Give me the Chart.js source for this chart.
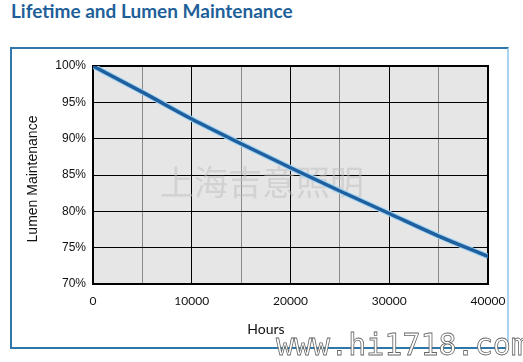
<!DOCTYPE html>
<html lang="en">
<head>
    <meta charset="UTF-8">
    <title>Lifetime and Lumen Maintenance</title>
    <style>
        body {
            margin: 0;
            background: #ffffff;
            width: 523px;
            height: 362px;
            overflow: hidden;
            position: relative;
            font-family: Lato, "Open Sans", sans-serif;
        }

        .title {
            position: absolute;
            left: 11px;
            top: -1px;
            font-size: 19px;
            font-weight: bold;
            color: #1f5f99;
        }

        .frame {
            position: absolute;
            left: 10px;
            top: 47px;
            width: 495px;
            height: 298px;
            border: 2px solid #2f76aa;
            border-right-color: #a9d3ee;
        }

        #chart {
            position: absolute;
            left: 0;
            top: 0;
        }
    </style>
    <script src="https://cdn.jsdelivr.net/npm/chart.js@4.4.1/dist/chart.umd.min.js"></script>
</head>
<body>
    <div class="title">Lifetime and Lumen Maintenance</div>
    <div class="frame"></div>
    <canvas id="chart" width="523" height="362"></canvas>
    <script>
        // chart data
        const hours = [0, 5000, 10000, 15000, 20000, 25000, 30000, 35000, 40000];
        const lumenMaintenance = [100, 96.4, 92.7, 89.3, 86.0, 82.8, 79.7, 76.6, 73.8];
        const xGridTicks = [0, 5000, 10000, 15000, 20000, 25000, 30000, 35000, 40000];
        const xLabelTicks = [0, 10000, 20000, 30000, 40000];
        const yTicks = [70, 75, 80, 85, 90, 95, 100];

        const xTitle = 'Hours';
        const yTitle = 'Lumen Maintenance';

        const points = hours.map((h, i) => ({ x: h, y: lumenMaintenance[i] }));

        // plot background, frame, axis titles and watermarks
        const decorations = {
            id: 'decorations',
            beforeDraw(chart) {
                const { ctx, chartArea: a } = chart;
                ctx.save();
                ctx.fillStyle = '#e6e6e6';
                ctx.fillRect(a.left, a.top, a.right - a.left, a.bottom - a.top);
                ctx.restore();
            },
            beforeDatasetsDraw(chart) {
                const { ctx, chartArea: a } = chart;
                ctx.save();
                // faint watermark
                ctx.fillStyle = 'rgba(190,190,190,0.5)';
                ctx.font = '34px "Noto Sans CJK SC"';
                ctx.textAlign = 'center';
                ctx.textBaseline = 'middle';
                ctx.fillText('上海吉意照明', 262, 182);

                ctx.strokeStyle = '#000';
                ctx.lineWidth = 2;
                ctx.strokeRect(a.left, a.top, a.right - a.left, a.bottom - a.top);
                ctx.restore();
            },
            afterDraw(chart) {
                const { ctx } = chart;
                ctx.save();
                ctx.fillStyle = '#111';
                ctx.textAlign = 'center';
                ctx.textBaseline = 'middle';
                ctx.font = '14px Lato';
                ctx.fillText(xTitle, 266, 329);

                ctx.translate(33, 179);
                ctx.rotate(-Math.PI / 2);
                ctx.font = '14px "Liberation Sans"';
                ctx.fillText(yTitle, 0, 0);
                ctx.restore();

                // site watermark, bottom right
                ctx.save();
                ctx.font = '30px "DejaVu Sans Mono"';
                ctx.textAlign = 'left';
                ctx.textBaseline = 'middle';
                ctx.fillStyle = '#ffffff';
                ctx.fillText('www.hi1718.com', 276, 347);
                ctx.strokeStyle = '#666';
                ctx.lineWidth = 0.8;
                ctx.strokeText('www.hi1718.com', 276, 347);
                ctx.restore();
            }
        };

        new Chart(document.getElementById('chart'), {
            type: 'line',
            data: {
                datasets: [{
                    data: points,
                    borderColor: '#1f5f9e',
                    borderWidth: 3.5,
                    pointRadius: 0,
                    cubicInterpolationMode: 'monotone',
                    fill: false,
                    order: 1
                }, {
                    // light halo under the line
                    data: points,
                    borderColor: '#9fd2f2',
                    borderWidth: 5.5,
                    pointRadius: 0,
                    cubicInterpolationMode: 'monotone',
                    fill: false,
                    order: 2
                }]
            },
            options: {
                responsive: false,
                animation: false,
                layout: {
                    padding: { left: 0, top: 66, right: 35, bottom: 48 }
                },
                plugins: {
                    legend: { display: false },
                    tooltip: { enabled: false }
                },
                scales: {
                    x: {
                        type: 'linear',
                        min: 0,
                        max: 40000,
                        afterFit: (s) => { s.height = 30; },
                        afterBuildTicks: (s) => {
                            s.ticks = xGridTicks.map(v => ({ value: v }));
                        },
                        border: { display: false },
                        grid: {
                            drawTicks: false,
                            lineWidth: 1,
                            color: (c) => (c.tick && c.tick.value % 10000 === 0) ? '#000' : '#8a8a8a'
                        },
                        ticks: {
                            padding: 10,
                            maxRotation: 0,
                            autoSkip: false,
                            color: '#111',
                            font: { family: 'Lato', size: 12 },
                            callback: (v) => xLabelTicks.includes(v) ? String(v) : ''
                        }
                    },
                    y: {
                        min: 70,
                        max: 100,
                        afterFit: (s) => { s.width = 93; },
                        afterBuildTicks: (s) => {
                            s.ticks = yTicks.map(v => ({ value: v }));
                        },
                        border: { display: false },
                        grid: {
                            drawTicks: false,
                            lineWidth: 1,
                            color: '#000'
                        },
                        ticks: {
                            padding: 7,
                            color: '#111',
                            font: { family: 'Liberation Sans', size: 12 },
                            callback: (v) => v + '%'
                        }
                    }
                }
            },
            plugins: [decorations]
        });
    </script>
</body>
</html>
